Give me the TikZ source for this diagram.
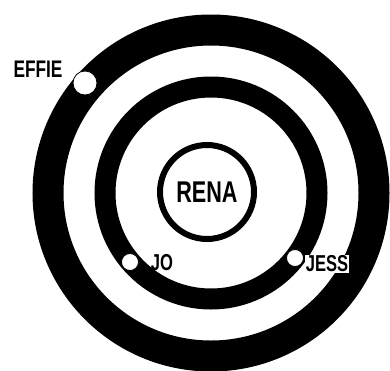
\documentclass[tikz,border=0pt]{standalone}
\usepackage{fontspec}
\setmainfont{Liberation Sans}[FakeStretch=0.72]
\begin{document}
\begin{tikzpicture}[x=1pt,y=-1pt,
  ring/.style={draw=black},
  dot/.style={circle,fill=white,draw=black,line width=0.8pt,inner sep=0pt},
  lbl/.style={inner sep=1pt,font=\bfseries\fontsize{23}{23}\selectfont}]
\useasboundingbox (0,0) rectangle (390,370);
\clip (0,0) rectangle (390,370);
\coordinate (c) at (211,193);
\draw[ring,line width=31pt] (c) circle[radius=163pt];
\draw[ring,line width=21pt] (c) circle[radius=106pt];
\node[circle,draw=black,line width=6pt,minimum size=94pt,inner sep=0pt,
      font=\bfseries\fontsize{30}{30}\selectfont] (rena) at (207,192) {RENA};
\node[dot,minimum size=24pt] (effiedot) at (85,83) {};
\node[lbl,font=\bfseries\fontsize{24}{24}\selectfont] (effie) at (38,69) {EFFIE};
\node[dot,minimum size=17pt] (jodot) at (130,262) {};
\node[lbl] (jo) at (162,263) {JO};
\node[dot,minimum size=17pt] (jessdot) at (295,258) {};
\node[lbl,fill=white] (jess) at (327,264) {JESS};
\end{tikzpicture}
\end{document}
